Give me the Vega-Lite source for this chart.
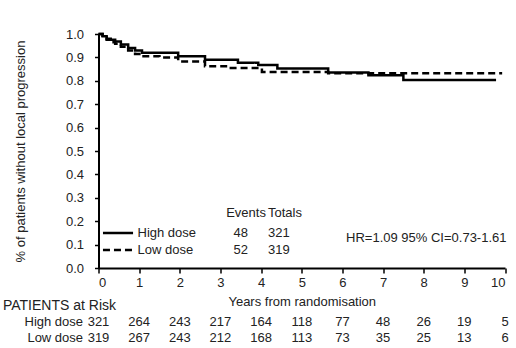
{
  "$schema": "https://vega.github.io/schema/vega-lite/v6.json",
  "width": 406.5,
  "height": 234,
  "autosize": "none",
  "padding": {"left": 98.5, "top": 34, "right": 11, "bottom": 80},
  "background": "white",
  "config": {
    "view": {"stroke": null},
    "font": "Liberation Sans",
    "text": {"font": "Liberation Sans", "fontSize": 13, "color": "#222"},
    "axis": {
      "grid": false,
      "labelOverlap": false,
      "labelBound": false,
      "domainColor": "#000",
      "domainWidth": 2,
      "tickColor": "#000",
      "tickWidth": 1.5,
      "labelFont": "Liberation Sans",
      "labelFontSize": 13,
      "labelColor": "#222",
      "titleFont": "Liberation Sans",
      "titleFontSize": 13,
      "titleFontWeight": "normal",
      "titleColor": "#222"
    },
    "axisX": {"tickCount": 10},
    "axisY": {"tickCount": 10}
  },
  "datasets": {
    "km": [
      {"group": "High dose", "year": 0, "surv": 1.0},
      {"group": "High dose", "year": 0.1, "surv": 0.99},
      {"group": "High dose", "year": 0.2, "surv": 0.98},
      {"group": "High dose", "year": 0.3, "surv": 0.975},
      {"group": "High dose", "year": 0.41, "surv": 0.968},
      {"group": "High dose", "year": 0.55, "surv": 0.955},
      {"group": "High dose", "year": 0.73, "surv": 0.94},
      {"group": "High dose", "year": 0.9, "surv": 0.93},
      {"group": "High dose", "year": 1.07, "surv": 0.92},
      {"group": "High dose", "year": 1.96, "surv": 0.905},
      {"group": "High dose", "year": 2.62, "surv": 0.89},
      {"group": "High dose", "year": 3.43, "surv": 0.877},
      {"group": "High dose", "year": 3.93, "surv": 0.867},
      {"group": "High dose", "year": 4.4, "surv": 0.853},
      {"group": "High dose", "year": 5.65, "surv": 0.836},
      {"group": "High dose", "year": 6.64, "surv": 0.824},
      {"group": "High dose", "year": 7.5, "surv": 0.803},
      {"group": "High dose", "year": 9.78, "surv": 0.803},
      {"group": "Low dose", "year": 0, "surv": 1.0},
      {"group": "Low dose", "year": 0.1, "surv": 0.985},
      {"group": "Low dose", "year": 0.2, "surv": 0.975},
      {"group": "Low dose", "year": 0.3, "surv": 0.965},
      {"group": "Low dose", "year": 0.41, "surv": 0.958},
      {"group": "Low dose", "year": 0.55, "surv": 0.945},
      {"group": "Low dose", "year": 0.73, "surv": 0.93},
      {"group": "Low dose", "year": 0.9, "surv": 0.915},
      {"group": "Low dose", "year": 1.07, "surv": 0.905},
      {"group": "Low dose", "year": 1.5, "surv": 0.9},
      {"group": "Low dose", "year": 1.96, "surv": 0.883},
      {"group": "Low dose", "year": 2.62, "surv": 0.862},
      {"group": "Low dose", "year": 3.2, "surv": 0.855},
      {"group": "Low dose", "year": 4.02, "surv": 0.838},
      {"group": "Low dose", "year": 5.65, "surv": 0.832},
      {"group": "Low dose", "year": 9.93, "surv": 0.832}
    ],
    "legend": [
      {"group": "High dose", "events": 48, "totals": 321},
      {"group": "Low dose", "events": 52, "totals": 319}
    ],
    "atrisk": [
      {"group": "High dose", "year": 0, "n": 321},
      {"group": "High dose", "year": 1, "n": 264},
      {"group": "High dose", "year": 2, "n": 243},
      {"group": "High dose", "year": 3, "n": 217},
      {"group": "High dose", "year": 4, "n": 164},
      {"group": "High dose", "year": 5, "n": 118},
      {"group": "High dose", "year": 6, "n": 77},
      {"group": "High dose", "year": 7, "n": 48},
      {"group": "High dose", "year": 8, "n": 26},
      {"group": "High dose", "year": 9, "n": 19},
      {"group": "High dose", "year": 10, "n": 5},
      {"group": "Low dose", "year": 0, "n": 319},
      {"group": "Low dose", "year": 1, "n": 267},
      {"group": "Low dose", "year": 2, "n": 243},
      {"group": "Low dose", "year": 3, "n": 212},
      {"group": "Low dose", "year": 4, "n": 168},
      {"group": "Low dose", "year": 5, "n": 113},
      {"group": "Low dose", "year": 6, "n": 73},
      {"group": "Low dose", "year": 7, "n": 35},
      {"group": "Low dose", "year": 8, "n": 25},
      {"group": "Low dose", "year": 9, "n": 13},
      {"group": "Low dose", "year": 10, "n": 6}
    ]
  },
  "layer": [
    {
      "data": {"name": "km"},
      "mark": {"type": "line", "interpolate": "step-after", "strokeWidth": 2.5, "color": "#000"},
      "encoding": {
        "x": {
          "field": "year", "type": "quantitative",
          "scale": {"domain": [0, 10], "nice": false},
          "axis": {
            "tickSize": 5, "labelPadding": 3,
            "title": "Years from randomisation", "titlePadding": 6
          }
        },
        "y": {
          "field": "surv", "type": "quantitative",
          "scale": {"domain": [0, 1], "nice": false},
          "axis": {
            "format": ".1f", "tickSize": 4, "labelPadding": 11,
            "title": "% of patients without local progression", "titlePadding": 38
          }
        },
        "strokeDash": {
          "field": "group", "type": "nominal",
          "scale": {"domain": ["High dose", "Low dose"], "range": [[1, 0], [7, 4]]},
          "legend": null
        }
      }
    },
    {
      "data": {"name": "legend"},
      "transform": [{"filter": "datum.group === 'High dose'"}],
      "encoding": {"y": {"datum": 0.15}},
      "layer": [
        {
          "mark": {"type": "rule", "strokeWidth": 2.5, "color": "#000"},
          "encoding": {
            "x": {"datum": 0.11}, "x2": {"datum": 0.85},
            "strokeDash": {"field": "group", "type": "nominal"}
          }
        },
        {"mark": {"type": "text", "align": "left"}, "encoding": {"x": {"datum": 0.96}, "text": {"field": "group"}}},
        {"mark": {"type": "text", "align": "center"}, "encoding": {"x": {"datum": 3.5}, "text": {"field": "events"}}},
        {"mark": {"type": "text", "align": "left"}, "encoding": {"x": {"datum": 4.17}, "text": {"field": "totals"}}}
      ]
    },
    {
      "data": {"name": "legend"},
      "transform": [{"filter": "datum.group === 'Low dose'"}],
      "encoding": {"y": {"datum": 0.077}},
      "layer": [
        {
          "mark": {"type": "rule", "strokeWidth": 2.5, "color": "#000"},
          "encoding": {
            "x": {"datum": 0.11}, "x2": {"datum": 0.85},
            "strokeDash": {"field": "group", "type": "nominal"}
          }
        },
        {"mark": {"type": "text", "align": "left"}, "encoding": {"x": {"datum": 0.96}, "text": {"field": "group"}}},
        {"mark": {"type": "text", "align": "center"}, "encoding": {"x": {"datum": 3.5}, "text": {"field": "events"}}},
        {"mark": {"type": "text", "align": "left"}, "encoding": {"x": {"datum": 4.17}, "text": {"field": "totals"}}}
      ]
    },
    {
      "data": {"values": [{"label": "Events"}]},
      "mark": {"type": "text", "align": "left"},
      "encoding": {"x": {"datum": 3.14}, "y": {"datum": 0.235}, "text": {"field": "label"}}
    },
    {
      "data": {"values": [{"label": "Totals"}]},
      "mark": {"type": "text", "align": "left"},
      "encoding": {"x": {"datum": 4.17}, "y": {"datum": 0.235}, "text": {"field": "label"}}
    },
    {
      "data": {"values": [{"label": "HR=1.09 95% CI=0.73-1.61"}]},
      "mark": {"type": "text", "align": "left"},
      "encoding": {"x": {"datum": 6.09}, "y": {"datum": 0.128}, "text": {"field": "label"}}
    },
    {
      "data": {"values": [{"label": "PATIENTS at Risk"}]},
      "mark": {"type": "text", "align": "left", "fontSize": 14},
      "encoding": {"x": {"datum": -2.35}, "y": {"datum": -0.162}, "text": {"field": "label"}}
    },
    {
      "data": {"name": "atrisk"},
      "transform": [{"filter": "datum.group === 'High dose'"}],
      "encoding": {"y": {"datum": -0.231}},
      "layer": [
        {"mark": {"type": "text", "align": "center"}, "encoding": {"x": {"field": "year", "type": "quantitative"}, "text": {"field": "n"}}},
        {
          "transform": [{"filter": "datum.year === 0"}],
          "mark": {"type": "text", "align": "right"},
          "encoding": {"x": {"datum": -0.38}, "text": {"field": "group"}}
        }
      ]
    },
    {
      "data": {"name": "atrisk"},
      "transform": [{"filter": "datum.group === 'Low dose'"}],
      "encoding": {"y": {"datum": -0.299}},
      "layer": [
        {"mark": {"type": "text", "align": "center"}, "encoding": {"x": {"field": "year", "type": "quantitative"}, "text": {"field": "n"}}},
        {
          "transform": [{"filter": "datum.year === 0"}],
          "mark": {"type": "text", "align": "right"},
          "encoding": {"x": {"datum": -0.38}, "text": {"field": "group"}}
        }
      ]
    }
  ]
}
